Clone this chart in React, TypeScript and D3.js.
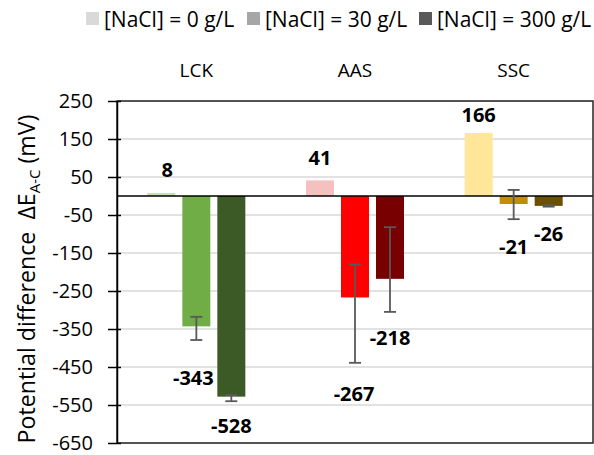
import * as d3 from "d3";
import React from "react";

const categories = ["LCK", "AAS", "SSC"];
const seriesNames = ["[NaCl] = 0 g/L", "[NaCl] = 30 g/L", "[NaCl] = 300 g/L"];
const legendColors = ["#d9d9d9", "#a6a6a6", "#595959"];

// mV per category, one entry per NaCl level
const lckValues = [8, -343, -528];
const aasValues = [41, -267, -218];
const sscValues = [166, -21, -26];

// error bars are not symmetric in the source: plus / minus
const lckErrPlus = [0, 25, 4];
const lckErrMinus = [0, 36, 12];
const aasErrPlus = [0, 87, 136];
const aasErrMinus = [0, 172, 87];
const sscErrPlus = [0, 37, 2];
const sscErrMinus = [0, 40, 2];

const yTicks = [250, 150, 50, -50, -150, -250, -350, -450, -550, -650];

const barColors: Record<string, string[]> = {
  LCK: ["#c5e0b4", "#70ad47", "#3b5a26"],
  AAS: ["#f4c0c0", "#ff0000", "#780000"],
  SSC: ["#ffe699", "#bf9000", "#6b5000"],
};

// label nudges in px, same order as the values
const labelShift: Record<string, [number, number][]> = {
  LCK: [[6, -23], [-3, 51], [0, 29]],
  AAS: [[0, -23], [-1, 96], [0, 59]],
  SSC: [[0, -18], [0, 43], [0, 28]],
};

const FONT = "'Open Sans', sans-serif";

export default function App() {
  const width = 594;
  const height = 455;
  const svgRef = React.useRef<SVGSVGElement | null>(null);

  React.useEffect(() => {
    const svg = d3.select(svgRef.current);
    svg.selectAll("*").remove();

    const plot = { left: 117, right: 593, top: 101, bottom: 443 };

    const rows = [
      { cat: "LCK", values: lckValues, plus: lckErrPlus, minus: lckErrMinus },
      { cat: "AAS", values: aasValues, plus: aasErrPlus, minus: aasErrMinus },
      { cat: "SSC", values: sscValues, plus: sscErrPlus, minus: sscErrMinus },
    ];

    const x = d3.scaleBand<string>().domain(categories).range([plot.left, plot.right]);
    const inner = d3
      .scaleBand<string>()
      .domain(seriesNames)
      .range([0, 98])
      .paddingInner(0.2);
    const groupOffset = x.bandwidth() / 2 - 49;
    const barX = (cat: string, i: number) =>
      (x(cat) ?? 0) + groupOffset + (inner(seriesNames[i]) ?? 0);

    const y = d3.scaleLinear().domain([-650, 250]).range([plot.bottom, plot.top]);

    // gridlines
    svg
      .append("g")
      .selectAll("line")
      .data(yTicks)
      .join("line")
      .attr("x1", plot.left)
      .attr("x2", plot.right)
      .attr("y1", (d) => y(d))
      .attr("y2", (d) => y(d))
      .attr("stroke", "#d9d9d9")
      .attr("stroke-width", 1.5);

    // bars
    rows.forEach((row) => {
      const g = svg.append("g");
      row.values.forEach((v, i) => {
        g.append("rect")
          .attr("x", barX(row.cat, i))
          .attr("width", inner.bandwidth())
          .attr("y", y(Math.max(0, v)))
          .attr("height", Math.abs(y(v) - y(0)))
          .attr("fill", barColors[row.cat][i]);
      });
    });

    // zero line
    svg
      .append("line")
      .attr("x1", plot.left)
      .attr("x2", plot.right)
      .attr("y1", y(0))
      .attr("y2", y(0))
      .attr("stroke", "#000")
      .attr("stroke-width", 1.5);

    // error bars
    rows.forEach((row) => {
      const g = svg.append("g").attr("stroke", "#595959").attr("stroke-width", 1.8);
      row.values.forEach((v, i) => {
        const hi = v + row.plus[i];
        const lo = v - row.minus[i];
        if (hi === lo) return;
        const cx = barX(row.cat, i) + inner.bandwidth() / 2;
        g.append("line").attr("x1", cx).attr("x2", cx).attr("y1", y(hi)).attr("y2", y(lo));
        [hi, lo].forEach((ev) => {
          g.append("line")
            .attr("x1", cx - 6)
            .attr("x2", cx + 6)
            .attr("y1", y(ev))
            .attr("y2", y(ev));
        });
      });
    });

    // data labels
    rows.forEach((row) => {
      row.values.forEach((v, i) => {
        const cx = barX(row.cat, i) + inner.bandwidth() / 2;
        const [dx, dy] = labelShift[row.cat][i];
        svg
          .append("text")
          .attr("x", cx + dx)
          .attr("y", y(v) + dy)
          .attr("text-anchor", "middle")
          .attr("dominant-baseline", "central")
          .attr("font-family", FONT)
          .attr("font-weight", "bold")
          .attr("font-size", 20)
          .text(String(v));
      });
    });

    // plot frame
    svg
      .append("rect")
      .attr("x", plot.left)
      .attr("y", plot.top)
      .attr("width", plot.right - plot.left)
      .attr("height", plot.bottom - plot.top)
      .attr("fill", "none")
      .attr("stroke", "#262626")
      .attr("stroke-width", 1.5);

    // y axis with cross ticks
    const axis = svg
      .append("g")
      .attr("transform", `translate(${plot.left},0)`)
      .call(
        d3
          .axisLeft(y)
          .tickValues(yTicks)
          .tickSize(9)
          .tickSizeOuter(0)
          .tickFormat((d) => String(d))
      );
    axis.select(".domain").attr("stroke", "#000").attr("stroke-width", 1.5);
    axis.selectAll(".tick line").attr("x2", 4).attr("x1", -9).attr("stroke", "#000").attr("stroke-width", 1.5);
    axis
      .selectAll(".tick text")
      .attr("font-family", FONT)
      .attr("font-size", 20)
      .attr("fill", "#000")
      .attr("x", -24);

    // category labels on top
    svg
      .append("g")
      .selectAll("text")
      .data(categories)
      .join("text")
      .attr("x", (d) => (x(d) ?? 0) + x.bandwidth() / 2)
      .attr("y", 70)
      .attr("text-anchor", "middle")
      .attr("dominant-baseline", "central")
      .attr("font-family", FONT)
      .attr("font-size", 19)
      .text((d) => d);

    // legend
    const legendX = [86, 247, 419];
    const legend = svg
      .append("g")
      .selectAll("g")
      .data(seriesNames)
      .join("g")
      .attr("transform", (_, i) => `translate(${legendX[i]},12)`);
    legend
      .append("rect")
      .attr("width", 13)
      .attr("height", 13)
      .attr("fill", (_, i) => legendColors[i]);
    legend
      .append("text")
      .attr("x", 18)
      .attr("y", 6.5)
      .attr("dominant-baseline", "central")
      .attr("font-family", FONT)
      .attr("font-size", 21)
      .text((d) => d);

    // y axis title
    const title = svg
      .append("text")
      .attr("transform", `translate(35,279) rotate(-90)`)
      .attr("text-anchor", "middle")
      .attr("font-family", FONT)
      .attr("font-size", 23.2)
      .style("white-space", "pre");
    title.append("tspan").text("Potential difference\u00a0 ΔE");
    title.append("tspan").attr("font-size", 15).attr("dy", 5).text("A-C");
    title.append("tspan").attr("dy", -5).text(" (mV)");
  }, []);

  return (
    <svg
      ref={svgRef}
      width={width}
      height={height}
      viewBox={`0 0 ${width} ${height}`}
      style={{ position: "absolute", left: 0, top: 0, background: "#fff" }}
    ></svg>
  );
}
